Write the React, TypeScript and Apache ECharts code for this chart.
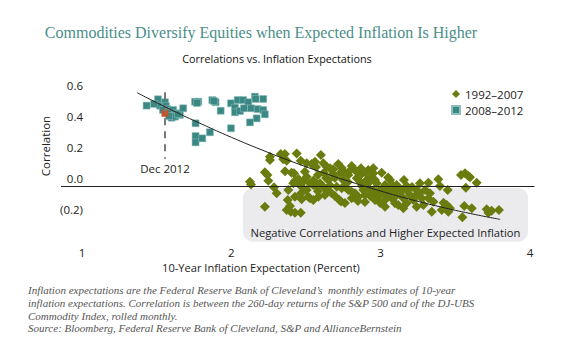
import React, { useEffect, useRef } from "react";
import * as echarts from "echarts";

// Axis tick labels
const xTickValues = [1, 2, 3, 4];
const yTickValues = [-0.2, 0, 0.2, 0.4, 0.6];

// 1992–2007 (olive diamonds): x = 10-yr inflation expectation, y = correlation
const era1X = [
  2.125, 2.132, 2.225, 2.242, 2.248, 2.259, 2.259, 2.286, 2.304, 2.225,
  2.331, 2.359, 2.348, 2.371, 2.404, 2.42, 2.415, 2.426, 2.382, 2.426,
  2.378, 2.393, 2.398, 2.426, 2.438, 2.448, 2.465, 2.371, 2.465, 2.471,
  2.467, 2.471, 2.482, 2.505, 2.505, 2.515, 2.505, 2.538, 2.56, 2.527,
  2.549, 2.567, 2.493, 2.527, 2.549, 2.572, 2.594, 2.616, 2.583, 2.6,
  2.616, 2.639, 2.661, 2.683, 2.65, 2.639, 2.672, 2.706, 2.716, 2.728,
  2.723, 2.627, 2.549, 2.739, 2.761, 2.761, 2.783, 2.783, 2.806, 2.823,
  2.806, 2.828, 2.806, 2.735, 2.84, 2.85, 2.862, 2.868, 2.884, 2.895,
  2.907, 2.917, 2.917, 2.917, 2.951, 2.951, 2.929, 2.962, 2.973, 2.94,
  2.962, 2.984, 2.962, 3.007, 2.951, 3.029, 3.051, 3.085, 3.107, 3.04,
  3.074, 3.096, 3.129, 3.152, 3.174, 3.196, 3.219, 3.174, 3.241, 3.263,
  3.297, 3.33, 3.275, 3.263, 3.319, 3.386, 3.319, 3.353, 3.286, 3.342,
  3.152, 3.174, 3.096, 3.118, 3.018, 3.063, 3.107, 3.029, 3.241, 2.996,
  2.848, 2.761, 3.397, 3.449, 3.538, 3.565, 3.587, 3.598, 3.643, 3.57,
  3.421, 3.443, 3.409, 3.453, 3.464, 3.56, 3.61, 3.547, 3.71, 3.721,
  3.743, 3.792, 2.694, 2.748, 2.875, 2.996, 3.076, 3.21, 2.58, 2.634,
  2.848, 3.029, 2.694, 2.895, 3.156, 2.62, 2.68, 2.74, 2.79, 2.86,
  2.9, 2.55, 2.66, 2.78, 2.93, 3.02, 3.14, 3.23, 3.05, 2.58,
  2.45, 2.36,
];
const era1Y = [
  0.032, 0.014, 0.093, 0.075, 0.039, 0.194, 0.172, -0.004, -0.043, -0.129,
  0.211, 0.211, 0.177, 0.168, 0.09, 0.086, 0.022, 0.039, -0.021, -0.065,
  -0.086, -0.125, -0.161, -0.168, 0.215, 0.022, 0.168, -0.15, -0.168, -0.081,
  -0.043, 0.0, 0.032, -0.021, 0.065, -0.065, 0.151, 0.146, 0.161, -0.075,
  0.14, 0.127, 0.097, 0.022, 0.011, 0.0, 0.022, 0.0, -0.065, 0.205,
  0.151, 0.129, 0.119, 0.112, 0.043, -0.021, -0.043, 0.0, 0.146, 0.086,
  -0.086, -0.054, -0.086, -0.01, 0.086, 0.0, 0.075, -0.021, 0.134, 0.112,
  -0.032, -0.043, -0.075, -0.095, 0.054, -0.065, 0.032, 0.119, -0.021, -0.054,
  0.043, 0.022, 0.108, -0.01, 0.086, -0.021, 0.054, 0.043, 0.022, -0.043,
  -0.043, -0.065, -0.086, 0.09, 0.119, 0.011, -0.01, 0.005, -0.01, -0.054,
  -0.075, -0.065, -0.043, -0.075, -0.021, -0.054, -0.086, 0.005, -0.021, -0.043,
  -0.021, -0.043, -0.075, 0.022, 0.026, 0.048, -0.075, -0.097, -0.118, -0.161,
  -0.139, -0.107, -0.107, -0.118, -0.017, 0.043, 0.011, -0.129, -0.129, -0.105,
  -0.092, -0.105, 0.005, -0.021, 0.075, 0.086, 0.069, 0.061, 0.026, -0.006,
  -0.103, -0.118, -0.15, -0.161, -0.139, -0.125, -0.139, -0.197, -0.146, -0.168,
  -0.155, -0.15, 0.056, 0.043, 0.005, -0.021, -0.034, -0.002, 0.075, 0.056,
  0.088, -0.086, -0.06, -0.099, 0.043, 0.09, 0.08, 0.12, 0.1, 0.07,
  0.09, 0.04, 0.01, 0.03, -0.06, -0.04, -0.02, -0.06, 0.06, -0.03,
  0.05, 0.1,
];

// 2008–2012 (teal squares)
const era2X = [
  1.433, 1.509, 1.522, 1.556, 1.562, 1.574, 1.601, 1.611, 1.578, 1.634,
  1.601, 1.623, 1.656, 1.643, 1.678, 1.757, 1.779, 1.77, 1.873, 1.895,
  1.884, 1.929, 1.761, 1.761, 1.761, 1.806, 1.857, 1.998, 2.025, 2.043,
  2.08, 2.114, 2.158, 2.163, 2.214, 2.025, 2.058, 2.085, 2.132, 2.177,
  2.214, 2.225, 2.17, 2.125, 1.998, 1.542, 1.583, 1.482,
];
const era2Y = [
  0.523, 0.564, 0.523, 0.545, 0.521, 0.501, 0.49, 0.495, 0.474, 0.474,
  0.445, 0.452, 0.463, 0.469, 0.506, 0.548, 0.548, 0.54, 0.559, 0.545,
  0.553, 0.49, 0.409, 0.327, 0.286, 0.312, 0.351, 0.538, 0.51, 0.559,
  0.559, 0.545, 0.581, 0.566, 0.566, 0.48, 0.488, 0.506, 0.506, 0.501,
  0.495, 0.467, 0.441, 0.415, 0.377, 0.495, 0.456, 0.534,
];

// Dec 2012 observation
const dec2012X = 1.556;
const dec2012Y = 0.474;

// Fitted trend line
const trendX = [1.37, 1.6, 1.8, 2.0, 2.2, 2.4, 2.6, 2.8, 3.0, 3.2, 3.4, 3.6, 3.8];
const trendY = [0.606, 0.495, 0.405, 0.319, 0.239, 0.164, 0.095, 0.031, -0.028, -0.082, -0.13, -0.173, -0.211];

const footnoteLines = [
  "Inflation expectations are the Federal Reserve Bank of Cleveland\u2019s  monthly estimates of 10-year",
  "inflation expectations. Correlation is between the 260-day returns of the S&P 500 and of the DJ-UBS",
  "Commodity Index, rolled monthly.",
  "Source: Bloomberg, Federal Reserve Bank of Cleveland, S&P and AllianceBernstein",
];

const OLIVE = "#6b7c0e";
const TEAL = "#3a8783";
const RED = "#c0562c";
const SANS = "'Open Sans', 'Noto Sans', sans-serif";
const SERIF = "'Liberation Serif', 'DejaVu Serif', serif";

export default function App() {
  const ref = useRef<HTMLDivElement>(null);

  useEffect(() => {
    const chart = echarts.init(ref.current!, null, { renderer: "svg" });
    const fmtY = (v: number) => {
      if (Math.abs(v) < 1e-9) return "0.0";
      return v < 0 ? `(${(-v).toFixed(1)})` : v.toFixed(1);
    };
    const option: any = {
      animation: false,
      grid: { left: 61, right: 45.5, top: 90.6, bottom: 113.5, containLabel: false },
      legend: {
        orient: "vertical",
        left: 451,
        top: 88,
        itemWidth: 8,
        itemHeight: 8,
        itemGap: 4,
        padding: 0,
        textStyle: { fontFamily: SANS, fontSize: 11.5, color: "#222", lineHeight: 12 },
        data: [
          { name: "1992\u20132007", icon: "diamond" },
          { name: "2008\u20132012", icon: "rect" },
        ],
      },
      xAxis: {
        type: "value",
        min: 0.86,
        max: 4.03,
        axisLine: { show: false, onZero: false },
        axisTick: { show: false },
        splitLine: { show: false },
        axisLabel: {
          customValues: xTickValues,
          margin: 3.5,
          fontFamily: SANS,
          fontSize: 11.5,
          color: "#222",
          formatter: (v: number) => String(v),
        },
      },
      yAxis: {
        type: "value",
        min: -0.36,
        max: 0.62,
        offset: -22,
        axisLine: { show: false },
        axisTick: { show: false },
        splitLine: { show: false },
        axisLabel: {
          customValues: yTickValues,
          margin: 0,
          fontFamily: SANS,
          fontSize: 11.5,
          color: "#222",
          verticalAlign: "bottom",
          padding: [0, 0, 2, 0],
          formatter: fmtY,
        },
      },
      series: [
        {
          name: "trend",
          type: "line",
          data: trendX.map((x, i) => [x, trendY[i]]),
          smooth: true,
          showSymbol: false,
          symbol: "none",
          lineStyle: { color: "#222", width: 1 },
          z: 5,
          silent: true,
          markLine: {
            silent: true,
            symbol: "none",
            label: { show: false },
            lineStyle: { color: "#222", width: 1, type: "solid" },
            data: [{ yAxis: 0 }],
          },
        },
        {
          name: "1992\u20132007",
          type: "scatter",
          symbol: "diamond",
          symbolSize: 10,
          itemStyle: { color: OLIVE, opacity: 1 },
          data: era1X.map((x, i) => [x, era1Y[i]]),
          z: 3,
        },
        {
          name: "2008\u20132012",
          type: "scatter",
          symbol: "rect",
          symbolSize: 7,
          itemStyle: { color: TEAL, opacity: 1, borderColor: "#8fc0bc", borderWidth: 0.5 },
          data: era2X.map((x, i) => [x, era2Y[i]]),
          z: 3,
        },
        {
          name: "Dec 2012",
          type: "scatter",
          symbol: "rect",
          symbolSize: 7,
          itemStyle: { color: RED, opacity: 1 },
          data: [[dec2012X, dec2012Y]],
          z: 4,
          markLine: {
            silent: true,
            symbol: "none",
            lineStyle: { color: "#777", width: 2, type: [7, 6] },
            label: {
              show: true,
              position: "end",
              formatter: "Dec 2012",
              fontFamily: SANS,
              fontSize: 11.5,
              color: "#222",
              distance: 4,
            },
            data: [[{ coord: [dec2012X, 0.61] }, { coord: [dec2012X, 0.18] }]],
          },
        },
      ],
    };
    chart.setOption(option);

    const p1 = chart.convertToPixel({ xAxisIndex: 0, yAxisIndex: 0 }, [2.078, -0.008]) as number[];
    const p2 = chart.convertToPixel({ xAxisIndex: 0, yAxisIndex: 0 }, [3.987, -0.355]) as number[];

    const txt = (x: number, y: number, text: string, font: string, fill: string, align = "center", extra: any = {}) => ({
      type: "text",
      x,
      y,
      silent: true,
      ...extra,
      style: { text, font, fill, textAlign: align, textVerticalAlign: "middle" },
    });

    chart.setOption({
      graphic: [
        {
          type: "rect",
          z: -10,
          silent: true,
          shape: { x: p1[0], y: p1[1], width: p2[0] - p1[0], height: p2[1] - p1[1], r: 10 },
          style: { fill: "#ebebee" },
        },
        txt((p1[0] + p2[0]) / 2, p2[1] - 9.5, "Negative Correlations and Higher Expected Inflation", `11.2px ${SANS}`, "#222"),
        txt(261, 32, "Commodities Diversify Equities when Expected Inflation Is Higher", `16px ${SERIF}`, "#4a8e89"),
        txt(277, 58.5, "Correlations vs. Inflation Expectations", `10.8px ${SANS}`, "#111"),
        txt(261, 267, "10-Year Inflation Expectation (Percent)", `11.1px ${SANS}`, "#222"),
        txt(45, 146, "Correlation", `11.5px ${SANS}`, "#222", "center", { rotation: Math.PI / 2 }),
        ...footnoteLines.map((l, i) => txt(28, 290 + i * 12.8, l, `italic 11px ${SERIF}`, "#555", "left")),
      ],
    });

    return () => chart.dispose();
  }, []);

  return <div ref={ref} style={{ position: "fixed", left: 0, top: 0, width: 580, height: 356, background: "#fff" }} />;
}
